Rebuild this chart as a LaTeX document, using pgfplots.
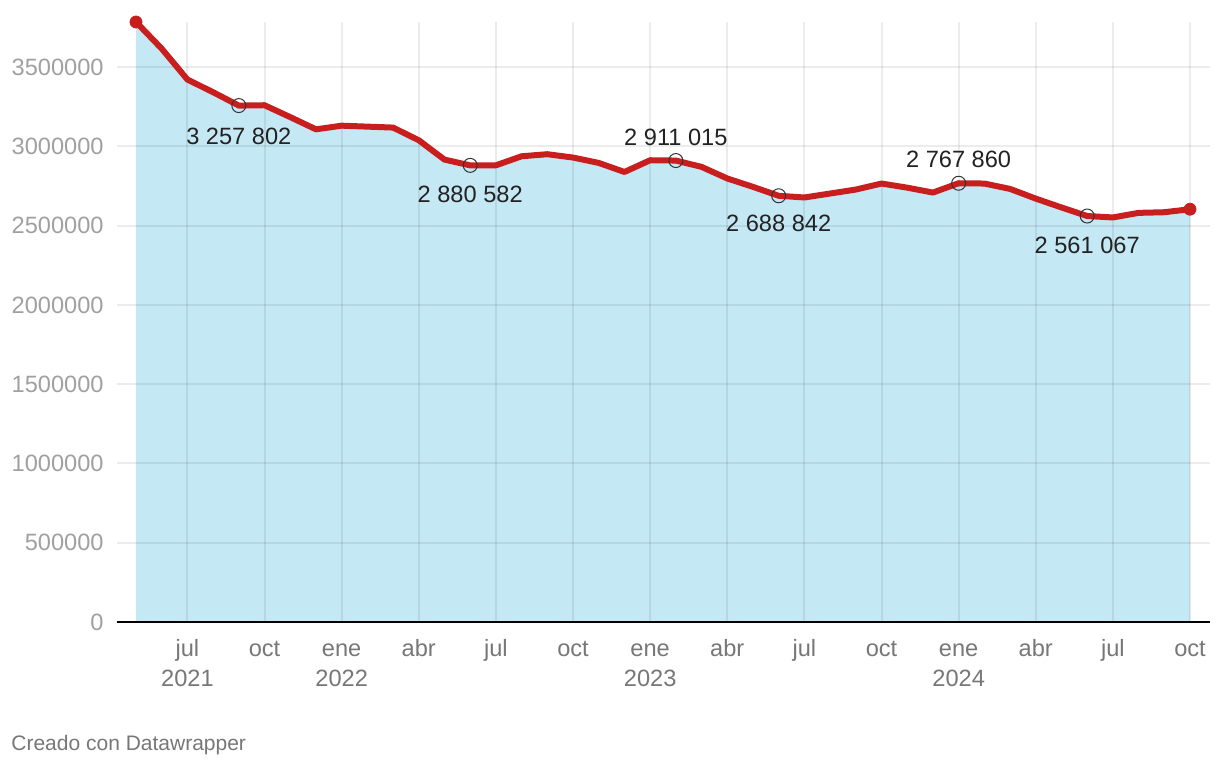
\documentclass[border=0pt]{standalone}
\usepackage{pgfplots}
\pgfplotsset{compat=1.18}
\usepackage{fontspec}
\setmainfont{Liberation Sans}
\definecolor{fillblue}{HTML}{C5E8F5}
\definecolor{linered}{HTML}{C91E1E}
\definecolor{ylab}{HTML}{A0A0A0}
\definecolor{xlab}{HTML}{777777}
\definecolor{txt}{HTML}{222222}
\pgfplotstableread{
x y
4 3785000
5 3617000
6 3422000
7 3342000
8 3257802
9 3260000
10 3185000
11 3108000
12 3131000
13 3125000
14 3119000
15 3039000
16 2917000
17 2880582
18 2881000
19 2938000
20 2951000
21 2930000
22 2896000
23 2839000
24 2913000
25 2911015
26 2871000
27 2798000
28 2745000
29 2688842
30 2678000
31 2703000
32 2728000
33 2766000
34 2740000
35 2709000
36 2767860
37 2766000
38 2732000
39 2671000
40 2615000
41 2561067
42 2552000
43 2581000
44 2585000
45 2604000
}\datatable
\pgfplotstableread{
x y
8 3257802
17 2880582
25 2911015
29 2688842
36 2767860
41 2561067
}\marked
\pgfplotstableread{
x y
4 3785000
45 2604000
}\ends
\begin{document}
\begin{tikzpicture}
\pgfplotsset{set layers}
\begin{axis}[
  at={(0,0)}, anchor=south west,
  scale only axis, width=546.5pt, height=300pt,
  xmin=3.261, xmax=45.778, ymin=0, ymax=3785000,
  clip=false,
  axis x line*=bottom, axis y line*=left,
  y axis line style={draw=none},
  x axis line style={-, black, line width=1pt},
  major tick length=0pt,
  xtick={6,9,...,45},
  xticklabels={{\strut jul\\2021},{\strut oct},{\strut ene\\2022},{\strut abr},{\strut jul},{\strut oct},{\strut ene\\2023},{\strut abr},{\strut jul},{\strut oct},{\strut ene\\2024},{\strut abr},{\strut jul},{\strut oct}},
  ytick={0,500000,...,3500000},
  scaled y ticks=false,
  yticklabel style={/pgf/number format/fixed, /pgf/number format/1000 sep={}, /pgf/number format/assume math mode=true, anchor=east, inner sep=0pt, xshift=-6.5pt, text=ylab, font=\fontsize{11.8}{15}\selectfont},
  xticklabel style={align=center, anchor=north, inner sep=0pt, yshift=-6.5pt, text=xlab, font=\fontsize{11.8}{15}\selectfont},
  grid=major,
  major grid style={draw=black, opacity=0.075, line width=1pt},
]
\addplot[fill=fillblue, draw=none, on layer=axis background] table[x=x,y=y] {\datatable} \closedcycle;
\addplot[linered, line width=3pt, line join=round, line cap=round] table[x=x,y=y] {\datatable};
\addplot[only marks, mark=o, mark size=3.5pt, mark options={draw=black!80, line width=0.5pt}] table[x=x,y=y] {\marked};
\addplot[only marks, mark=*, mark size=3pt, color=linered] table[x=x,y=y] {\ends};
\begin{scope}[every node/.style={text=txt, font=\fontsize{11.8}{14}\selectfont, inner sep=0pt}]
\node[yshift=-15.5pt] at (axis cs:8,3257802) {3 257 802};
\node[yshift=-14.5pt] at (axis cs:17,2880582) {2 880 582};
\node[yshift=11.5pt] at (axis cs:25,2911015) {2 911 015};
\node[yshift=-14pt] at (axis cs:29,2688842) {2 688 842};
\node[yshift=12pt] at (axis cs:36,2767860) {2 767 860};
\node[yshift=-14.5pt] at (axis cs:41,2561067) {2 561 067};
\end{scope}
\end{axis}
\node[anchor=west, inner sep=0pt, text=xlab, font=\fontsize{10.5}{12}\selectfont] at (-53pt,-61.5pt) {Creado con Datawrapper};
\path[use as bounding box] (-58.5pt,-73pt) rectangle (551.5pt,311pt);
\end{tikzpicture}
\end{document}
